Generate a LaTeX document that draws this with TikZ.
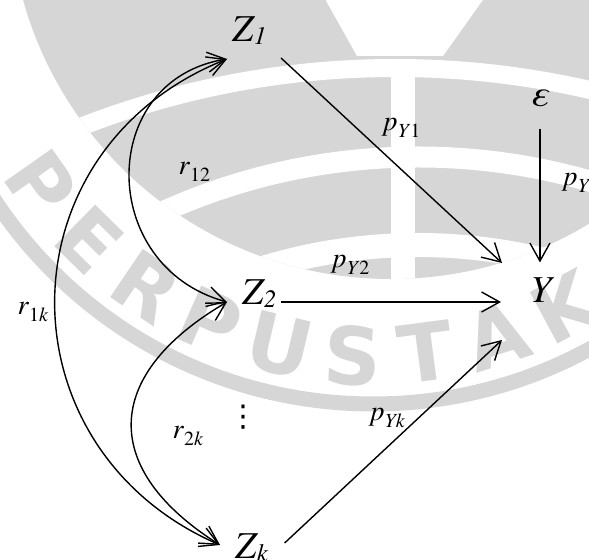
\documentclass[tikz,border=0pt]{standalone}
\usepackage{fontspec}
\setmainfont{texgyretermes}[Extension=.otf,UprightFont=*-regular,ItalicFont=*-italic,BoldFont=*-bold,BoldItalicFont=*-bolditalic]
\newfontfamily\stampfont{DejaVu Sans}
\usetikzlibrary{arrows.meta}

\newcommand{\coef}[2]{\textit{#1}\raisebox{-3.2pt}{\fontsize{10}{10}\selectfont #2}}
\newcommand{\vsub}[2]{#1\raisebox{-1.5pt}{\fontsize{12.5}{12.5}\selectfont #2}}

\begin{document}
\begin{tikzpicture}[x=.5pt,y=-.5pt,line width=.7pt,>={Straight Barb[length=9pt,width=10pt]}]
\tikzset{var/.style={inner sep=0pt,anchor=base west,font=\fontsize{19}{22}\selectfont\itshape},
coeflabel/.style={inner sep=0pt,anchor=base west,font=\fontsize{14}{16}\selectfont},
stamp/.style={black!16},
corr/.style={<->}}
\useasboundingbox (0,0) rectangle (589,560);
\clip (0,0) rectangle (589,560);
% watermark
\begin{scope}
\clip (391,-103) circle[radius=191pt];
\fill[stamp] (0,-10) rectangle (589,560);
\draw[white,line width=9pt] (395,934) circle[radius=433pt];
\draw[white,line width=10.5pt] (418,777) circle[radius=310pt];
\draw[white,line width=12pt] (418,777) circle[radius=266pt];
\fill[white] (391,60) rectangle (415,320);
\fill[white] (320,-10) -- (357,56) -- (443,56) -- (490,-10) -- cycle;
\end{scope}
\draw[stamp,line width=7.5pt] (373,-49) circle[radius=226.5pt];
\begin{scope}[shift={(373,-49)}]
\foreach \ch [count=\i from 0] in {P,E,R,P,U,S,T,A,K}{
 \pgfmathsetmacro\ang{144.9-10.4*\i}
 \node[stamp,font=\stampfont\bfseries\fontsize{40}{40}\selectfont,rotate=90-\ang] at (\ang:405) {\ch};
}
\end{scope}
% variables
\node[var] (z1) at (232,42) {\vsub{Z}{1}};
\node[var] (z2) at (242,305) {\vsub{Z}{2}};
\node[var] (zk) at (235,559) {\vsub{Z}{k}};
\node[var] (y) at (530,303) {Y};
\node[var] (eps) at (530,107) {ε};
\node[inner sep=0pt,font=\stampfont\fontsize{15}{15}\selectfont] (dots) at (243,417) {⋮};
% paths
\draw[->] ([shift={(14,16)}]z1.base east) -- ([shift={(-28,-40)}]y.base west);
\draw[->,shorten <=2pt,shorten >=14.5pt] ([yshift=1.5pt]z2.base east) -- ([yshift=1.5pt]z2.base east -| y.west);
\draw[->] ([shift={(16,-16)}]zk.base east) -- ([shift={(-28,37)}]y.base west);
\draw[->,shorten <=10.5pt,shorten >=7.5pt] (eps.south) -- (eps.south |- y.north);
% correlations
\draw[corr] ([shift={(-5,17)}]z1.base west) .. controls +(-130,21) and +(-130,-36) .. ([shift={(-15,-3)}]z2.base west);
\draw[corr] ([shift={(-5,17)}]z1.base west) .. controls +(-228,91) and +(-221,-96) .. ([shift={(-15,-14)}]zk.base west);
\draw[corr] ([shift={(-15,-3)}]z2.base west) .. controls +(-126,74) and +(-119,-75) .. ([shift={(-15,-14)}]zk.base west);
% labels
\node[coeflabel] (py1) at (383,131) {\coef{p}{\textit{Y}1}};
\node[coeflabel] (py2) at (332,268) {\coef{p}{\textit{Y}2}};
\node[coeflabel] (pyk) at (370,421) {\coef{p}{\textit{Yk}}};
\node[coeflabel] (pye) at (563,186) {\coef{p}{\textit{Yε}}};
\node[coeflabel] (r12) at (178,175) {\coef{r}{12}};
\node[coeflabel] (r1k) at (17,315) {\coef{r}{1\textit{k}}};
\node[coeflabel] (r2k) at (172,439) {\coef{r}{2\textit{k}}};
\end{tikzpicture}
\end{document}
